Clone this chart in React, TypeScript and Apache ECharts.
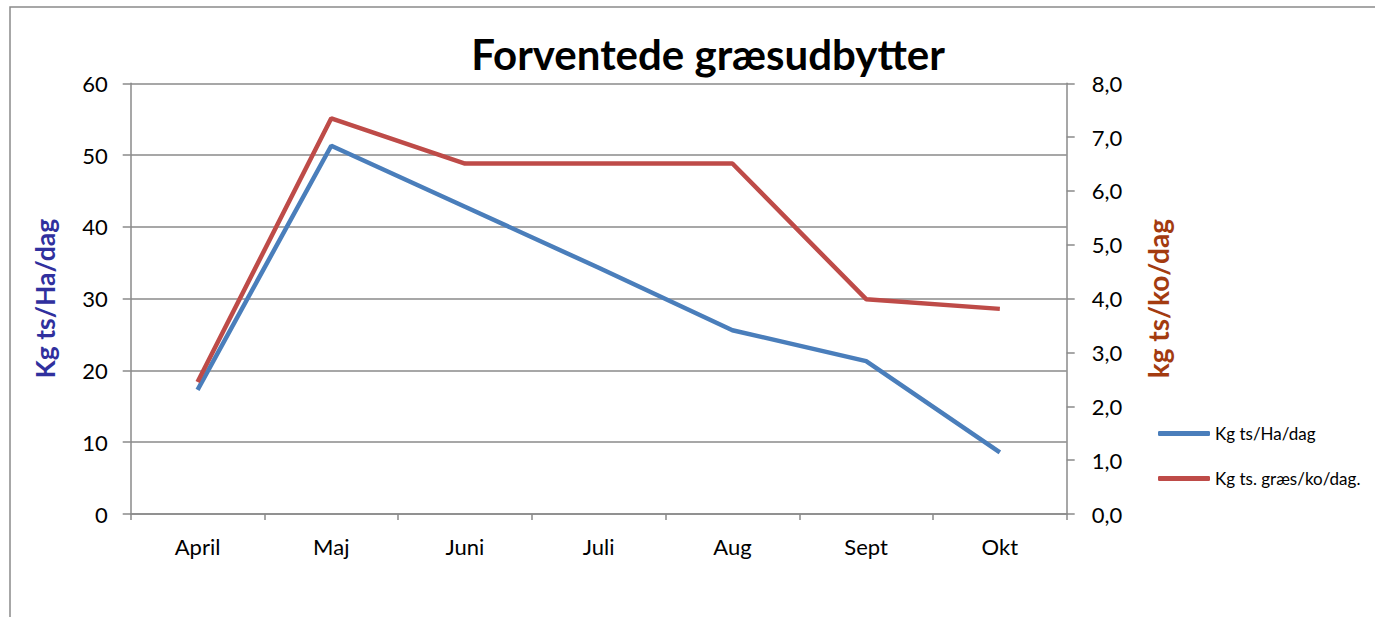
import React, { useEffect, useRef } from "react";
import * as echarts from "echarts";

const categories = ["April", "Maj", "Juni", "Juli", "Aug", "Sept", "Okt"];
const kgPerHa = [17.3, 51.3, 42.8, 34.3, 25.6, 21.3, 8.6];
const kgPerKo = [2.45, 7.35, 6.51, 6.51, 6.51, 3.99, 3.81];
const seriesNames = ["Kg ts/Ha/dag", "Kg ts. græs/ko/dag."];
const titleText = "Forventede græsudbytter";
const leftAxisName = "Kg ts/Ha/dag";
const rightAxisName = "kg ts/ko/dag";

const FONT = "Lato, 'Open Sans', sans-serif";
const GRAY = "#8a8a8a";

export default function App() {
  const ref = useRef<HTMLDivElement>(null);
  useEffect(() => {
    if (!ref.current) return;
    const chart = echarts.init(ref.current, null, { renderer: "svg" });
    chart.setOption({
      animation: false,
      backgroundColor: "#ffffff",
      textStyle: { fontFamily: FONT },
      title: {
        text: titleText,
        left: 703,
        top: 28,
        textAlign: "center",
        textStyle: { fontFamily: FONT, fontWeight: "bold", fontSize: 42, color: "#000" },
      },
      graphic: [
        {
          type: "rect",
          shape: { x: 10, y: 7, width: 1500, height: 800 },
          style: { fill: "none", stroke: GRAY, lineWidth: 1.5 },
          silent: true,
        },
      ],
      legend: {
        orient: "vertical",
        left: 1153,
        top: 420,
        itemWidth: 52,
        itemHeight: 5,
        itemGap: 28,
        icon: "roundRect",
        textStyle: { fontFamily: FONT, fontSize: 17, color: "#000" },
        data: seriesNames,
      },
      grid: { left: 130.7, right: 308.3, top: 83.3, bottom: 103 },
      xAxis: {
        type: "category",
        data: categories,
        boundaryGap: true,
        axisLine: { lineStyle: { color: GRAY, width: 1.5 } },
        axisTick: { show: true, length: 6, lineStyle: { color: GRAY, width: 1.5 } },
        axisLabel: { margin: 21, fontSize: 22, color: "#000", fontFamily: FONT },
      },
      yAxis: [
        {
          type: "value",
          min: 0,
          max: 60,
          interval: 10,
          position: "left",
          name: leftAxisName,
          nameLocation: "middle",
          nameRotate: 90,
          nameGap: 72,
          nameTextStyle: { fontFamily: FONT, fontSize: 26.5, fontWeight: "bold", color: "#30309e" },
          axisLine: { show: true, lineStyle: { color: GRAY, width: 1.5 } },
          axisTick: { show: true, length: 8, lineStyle: { color: GRAY, width: 1.5 } },
          axisLabel: { margin: 23, fontSize: 22, color: "#000", fontFamily: FONT },
          splitLine: { show: true, lineStyle: { color: GRAY, width: 1.5 } },
        },
        {
          type: "value",
          min: 0,
          max: 8,
          interval: 1,
          position: "right",
          name: rightAxisName,
          nameLocation: "middle",
          nameRotate: 90,
          nameGap: 77,
          nameTextStyle: { fontFamily: FONT, fontSize: 28, fontWeight: "bold", color: "#a33b10" },
          axisLine: { show: true, lineStyle: { color: GRAY, width: 1.5 } },
          axisTick: { show: true, length: 8, lineStyle: { color: GRAY, width: 1.5 } },
          axisLabel: {
            margin: 25,
            fontSize: 22,
            color: "#000",
            fontFamily: FONT,
            formatter: (v: number) => v.toFixed(1).replace(".", ","),
          },
          splitLine: { show: false },
        },
      ],
      series: [
        {
          name: seriesNames[0],
          type: "line",
          yAxisIndex: 0,
          data: kgPerHa,
          symbol: "none",
          lineStyle: { color: "#4a7ebb", width: 4.5 },
          itemStyle: { color: "#4a7ebb" },
        },
        {
          name: seriesNames[1],
          type: "line",
          yAxisIndex: 1,
          data: kgPerKo,
          symbol: "none",
          lineStyle: { color: "#be4b48", width: 4.5 },
          itemStyle: { color: "#be4b48" },
        },
      ],
    });
    return () => chart.dispose();
  }, []);
  return (
    <div
      ref={ref}
      style={{ position: "absolute", left: 0, top: 0, width: 1375, height: 617 }}
    />
  );
}
